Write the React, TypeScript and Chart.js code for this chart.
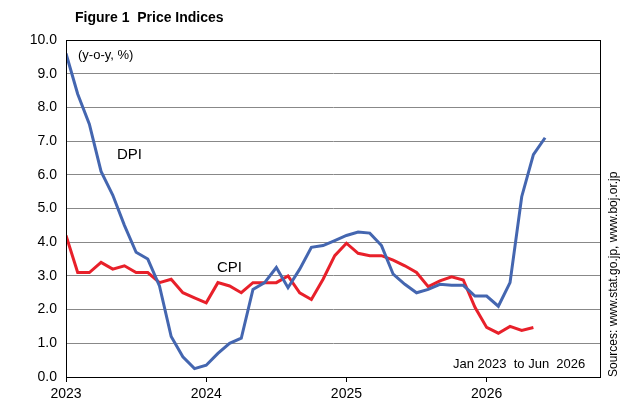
import { useEffect, useRef } from "react";
import { Chart, registerables } from "chart.js";

Chart.register(...registerables);

const dpi = [
  9.6, 8.4, 7.5, 6.1, 5.4, 4.5, 3.7, 3.5, 2.7, 1.2, 0.6, 0.25,
  0.35, 0.7, 1.0, 1.15, 2.6, 2.8, 3.25, 2.65, 3.2, 3.85, 3.9, 4.05,
  4.2, 4.3, 4.27, 3.9, 3.05, 2.75, 2.5, 2.6, 2.75, 2.72, 2.72, 2.4,
  2.4, 2.1, 2.8, 5.35, 6.6, 7.1,
];
const cpi = [
  4.2, 3.1, 3.1, 3.4, 3.2, 3.3, 3.1, 3.1, 2.8, 2.9, 2.5, 2.35,
  2.2, 2.8, 2.7, 2.5, 2.8, 2.8, 2.8, 3.0, 2.5, 2.3, 2.9, 3.6,
  3.97, 3.67, 3.6, 3.6, 3.47, 3.3, 3.1, 2.68, 2.85, 2.97, 2.88, 2.07,
  1.47, 1.3, 1.5, 1.38, 1.47,
];
const years = ["2023", "2024", "2025", "2026"];

const FONT = "'Liberation Sans', Arial, sans-serif";

export default function App() {
  const ref = useRef<HTMLCanvasElement>(null);

  useEffect(() => {
    document.body.style.margin = "0";
    if (!ref.current) return;
    const labels: any = {
      id: "labels",
      afterDraw(c: any) {
        const ctx = c.ctx;
        ctx.save();
        ctx.fillStyle = "#000";
        ctx.font = `bold 14px ${FONT}`;
        ctx.textBaseline = "middle";
        ctx.fillText("Figure 1  Price Indices", 75, 18);
        ctx.font = `13px ${FONT}`;
        ctx.fillText("(y-o-y, %)", 78, 55);
        ctx.font = `15px ${FONT}`;
        ctx.fillText("DPI", 117, 155);
        ctx.fillText("CPI", 217, 268);
        ctx.font = `13px ${FONT}`;
        ctx.fillText("Jan 2023  to Jun  2026", 453, 364);
        ctx.translate(614, 377);
        ctx.rotate(-Math.PI / 2);
        ctx.font = `12px ${FONT}`;
        ctx.fillText("Sources: www.stat.go.jp, www.boj.or.jp", 0, 0);
        ctx.restore();
        const a = c.chartArea;
        ctx.save();
        ctx.strokeStyle = "#000";
        ctx.lineWidth = 1;
        ctx.strokeRect(a.left + 0.5, a.top + 0.5, a.right - a.left, a.bottom - a.top);
        ctx.restore();
      },
    };
    const chart = new Chart(ref.current, {
      type: "line",
      data: {
        datasets: [
          {
            label: "DPI",
            data: dpi.map((v, i) => ({ x: i, y: v })),
            borderColor: "#4466b0",
            borderWidth: 3,
            pointRadius: 0,
          },
          {
            label: "CPI",
            data: cpi.map((v, i) => ({ x: i, y: v })),
            borderColor: "#e8202a",
            borderWidth: 3,
            pointRadius: 0,
          },
        ],
      },
      options: {
        animation: false,
        responsive: false,
        layout: { padding: { top: 40, right: 32, left: 0, bottom: 0 } },
        plugins: { legend: { display: false }, tooltip: { enabled: false } },
        scales: {
          x: {
            type: "linear",
            min: 0,
            max: 45.7,
            afterBuildTicks: (s: any) => {
              s.ticks = years.map((_, i) => ({ value: i * 12 }));
            },
            afterFit: (s: any) => {
              s.height = 38;
            },
            grid: { drawOnChartArea: false, drawTicks: true, tickLength: 5, color: "#000" },
            border: { color: "#000" },
            ticks: {
              color: "#000",
              padding: 4,
              font: { family: FONT, size: 14 },
              maxRotation: 0,
              callback: (v: any) => years[Math.round(Number(v) / 12)] ?? "",
            },
          },
          y: {
            min: 0,
            max: 10,
            afterFit: (s: any) => {
              s.width = 66;
            },
            grid: { color: "#888", drawTicks: false },
            border: { color: "#000" },
            ticks: {
              stepSize: 1,
              padding: 9,
              color: "#000",
              font: { family: FONT, size: 14 },
              callback: (v: any) => Number(v).toFixed(1),
            },
          },
        },
      },
      plugins: [labels],
    });
    return () => chart.destroy();
  }, []);

  return (
    <div style={{ width: 632, height: 415 }}>
      <canvas ref={ref} width={632} height={415} />
    </div>
  );
}
